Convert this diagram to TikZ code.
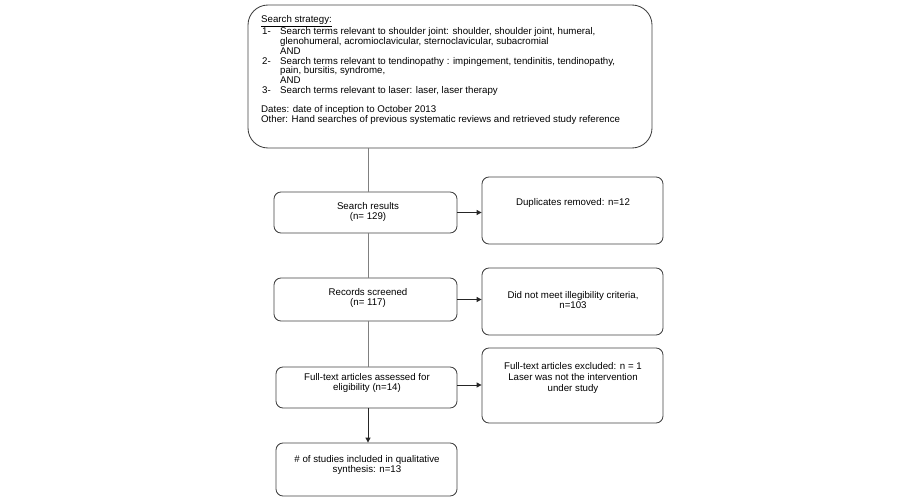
\documentclass[tikz,border=0pt]{standalone}
\usepackage{fontspec}
\setmainfont{Liberation Sans}
\usetikzlibrary{arrows.meta}
\definecolor{edge}{HTML}{404040}
\definecolor{conn}{HTML}{808080}
\tikzset{
  box/.style={draw=edge, line width=0.85pt, rounded corners=7pt, inner sep=0pt},
  bigbox/.style={draw=edge, line width=0.85pt, rounded corners=20pt, inner sep=0pt},
  txt/.style={font=\fontsize{9.7}{10.6}\selectfont, align=center, inner sep=0pt},
  ltxt/.style={font=\fontsize{9.7}{9.75}\selectfont, align=left, inner sep=0pt, anchor=north west},
  gline/.style={draw=conn, line width=1pt},
  arr/.style={draw=black!85, line width=1pt, -{Triangle[length=5pt,width=5pt]}},
}
\begin{document}
\begin{tikzpicture}[x=1pt,y=-1pt]
\useasboundingbox (0,0) rectangle (900,500);
% boxes
\node[bigbox, minimum width=404pt, minimum height=143pt] (strat) at (450,76.5) {};
\node[box, minimum width=183pt, minimum height=41pt] (sr) at (365.5,212.5) {};
\node[box, minimum width=181pt, minimum height=67pt] (dup) at (572.5,210.5) {};
\node[box, minimum width=183pt, minimum height=43pt] (rs) at (365.5,299.5) {};
\node[box, minimum width=181pt, minimum height=67pt] (dnm) at (572.5,301.5) {};
\node[box, minimum width=181pt, minimum height=41pt] (ft) at (366.5,387.5) {};
\node[box, minimum width=181pt, minimum height=75pt] (exc) at (572.5,385.5) {};
\node[box, minimum width=181pt, minimum height=53pt] (inc) at (366.5,469.5) {};
% texts
\node[ltxt] (strattxt) at (261,15.5) {%
\underline{Search strategy:}\\
\makebox[19pt][l]{\hspace{1pt}1-}Search terms relevant to shoulder joint: shoulder, shoulder joint, humeral,\\
\hspace{19pt}glenohumeral, acromioclavicular, sternoclavicular, subacromial\\
\hspace{19pt}AND\\
\makebox[19pt][l]{\hspace{1pt}2-}Search terms relevant to tendinopathy : impingement, tendinitis, tendinopathy,\\
\hspace{19pt}pain, bursitis, syndrome,\\
\hspace{19pt}AND\\
\makebox[19pt][l]{\hspace{1pt}3-}Search terms relevant to laser: laser, laser therapy\\[9.5pt]
Dates: date of inception to October 2013\\
Other: Hand searches of previous systematic reviews and retrieved study reference};
\node[txt] (srtxt) at (368,212) {Search results\\(n= 129)};
\node[txt] (duptxt) at (573,203) {Duplicates removed: n=12};
\node[txt] (rstxt) at (368,298) {Records screened\\(n= 117)};
\node[txt] (dnmtxt) at (573,300) {Did not meet illegibility criteria,\\n=103};
\node[txt] (fttxt) at (367,383) {Full-text articles assessed for\\eligibility (n=14)};
\node[txt] (exctxt) at (573,378) {Full-text articles excluded: n = 1\\Laser was not the intervention\\under study};
\node[txt] (inctxt) at (367,465) {\# of studies included in qualitative\\synthesis: n=13};
% connectors
\draw[gline] (368,0 |- strat.south) -- (368,0 |- sr.north);
\draw[gline] (368,0 |- sr.south) -- (368,0 |- rs.north);
\draw[gline] (368,0 |- rs.south) -- (368,0 |- ft.north);
\draw[arr] (368,0 |- ft.south) -- (368,0 |- inc.north);
\draw[arr] (sr.east) -- (sr.east -| dup.west);
\draw[arr] (rs.east) -- (rs.east -| dnm.west);
\draw[arr] (ft.east |- 0,385) -- (exc.west |- 0,385);
\end{tikzpicture}
\end{document}
